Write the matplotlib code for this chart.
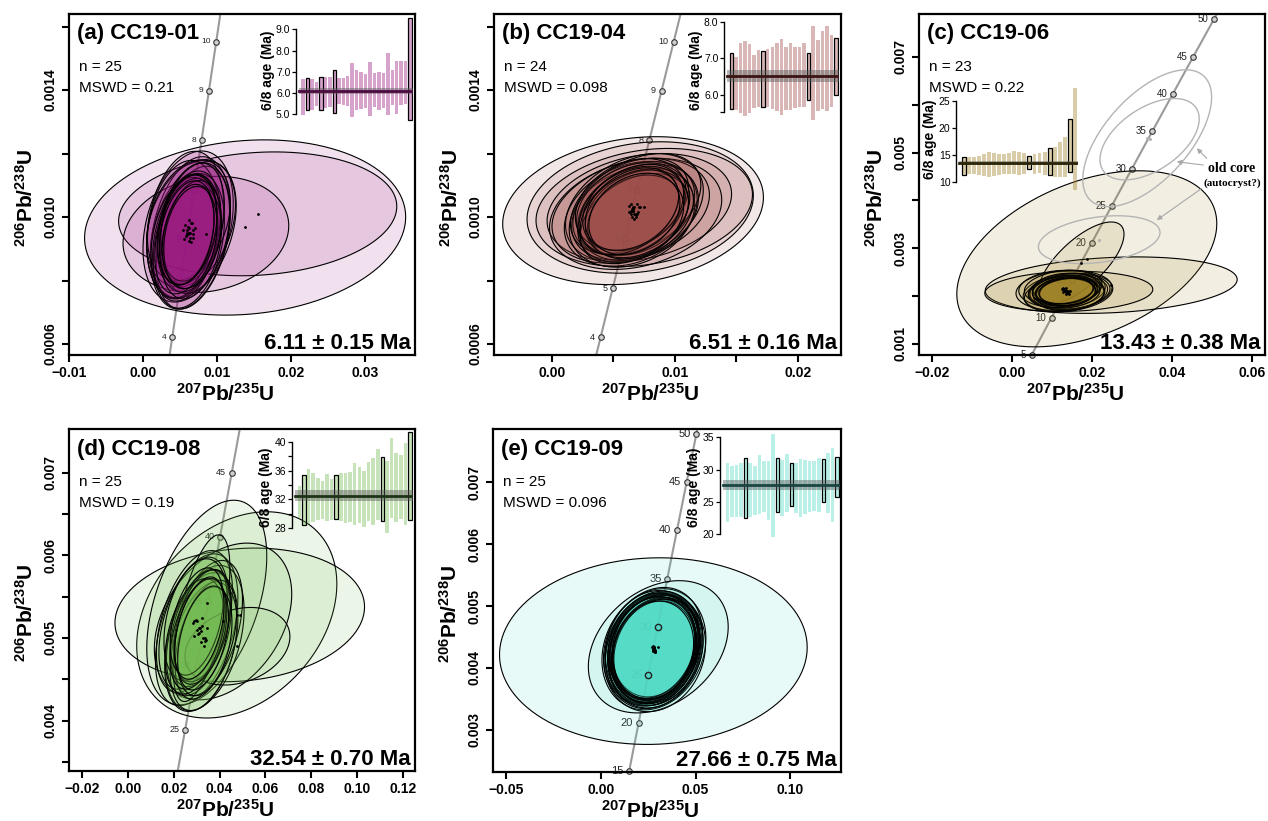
import numpy as np
import matplotlib
matplotlib.use("Agg")
import matplotlib.pyplot as plt
from matplotlib.patches import Polygon

plt.rcParams['font.family'] = ['Liberation Sans', 'DejaVu Sans']
plt.rcParams['mathtext.fontset'] = 'custom'
plt.rcParams['mathtext.rm'] = 'Liberation Sans'
plt.rcParams['mathtext.bf'] = 'Liberation Sans:bold'
plt.rcParams['mathtext.it'] = 'Liberation Sans:italic'

# ---------------- decay constants (per Ma) for the concordia ----------------
L238 = 1.55125e-4
L235 = 9.8485e-4

# ---------------- panel (a) CC19-01 ----------------
a_cx = [0.0138, 0.0155, 0.0085, 0.0061, 0.0065, 0.0068, 0.0062,
        0.0064, 0.0057, 0.0068, 0.0054, 0.0062, 0.0070, 0.0059, 0.0056, 0.0066,
        0.0062, 0.0058, 0.0065, 0.0060, 0.0067, 0.0062, 0.0059, 0.0064, 0.0061]
a_cy = [0.000967, 0.00101, 0.000945, 0.00097, 0.00098, 0.00096, 0.00099,
        0.000950, 0.000975, 0.000935, 0.000960, 0.000925, 0.000965, 0.000945, 0.000930, 0.000980,
        0.000950, 0.000940, 0.000920, 0.000960, 0.000945, 0.000965, 0.000950, 0.000935, 0.000945]
a_sx = [0.0217, 0.0188, 0.0112, 0.0061, 0.0060, 0.0058, 0.0056,
        0.0054, 0.0052, 0.0050, 0.0049, 0.0048, 0.0047, 0.0046, 0.0045, 0.0044,
        0.0043, 0.0042, 0.0041, 0.0040, 0.0039, 0.0038, 0.0037, 0.0036, 0.0035]
a_sy = [0.000276, 0.000195, 0.000183, 0.000238, 0.000200, 0.000215, 0.000190,
        0.000240, 0.000232, 0.000225, 0.000218, 0.000212, 0.000206, 0.000200, 0.000195, 0.000190,
        0.000186, 0.000182, 0.000178, 0.000174, 0.000170, 0.000167, 0.000164, 0.000161, 0.000158]
a_rho = [0.12, 0.12, 0.15, 0.30, 0.30, 0.35, 0.30,
         0.30, 0.25, 0.35, 0.22, 0.30, 0.25, 0.35, 0.25, 0.30,
         0.22, 0.35, 0.25, 0.30, 0.25, 0.22, 0.30, 0.25, 0.30]
a_hi = [6.68, 6.69, 6.68, 6.50, 6.74, 6.75, 6.75, 7.07, 6.70, 6.70, 6.78, 7.42, 7.10,
        7.00, 6.90, 7.45, 6.92, 7.00, 6.95, 7.88, 7.08, 7.50, 7.50, 7.50, 9.55]
a_lo = [4.95, 5.18, 5.20, 5.40, 5.22, 5.30, 5.35, 5.05, 5.50, 5.45, 5.40, 4.85, 5.20,
        5.25, 5.30, 4.90, 5.35, 5.20, 5.30, 4.95, 5.45, 5.00, 5.45, 5.50, 4.75]
a_out = [0, 1, 0, 0, 1, 0, 0, 1, 0, 0, 0, 0, 0, 0, 0, 0, 0, 0, 0, 0, 0, 0, 0, 0, 1]
a_ages = [4, 5, 6, 7, 8, 9, 10]

# ---------------- panel (b) CC19-04 ----------------
b_cx = [0.00659, 0.00717, 0.0075, 0.0071, 0.0068, 0.0064,
        0.0067, 0.0064, 0.0069, 0.0065, 0.0066, 0.0070, 0.0063, 0.0068, 0.0066,
        0.0064, 0.0067, 0.0065, 0.0069, 0.0066, 0.0063, 0.0068, 0.0065, 0.0067]
b_cy = [0.00102, 0.00103, 0.00103, 0.00103, 0.00101, 0.00102,
        0.001030, 0.001010, 0.001040, 0.001000, 0.001020, 0.001015, 0.001035, 0.001005, 0.001025,
        0.001040, 0.000995, 0.001020, 0.001010, 0.001030, 0.001015, 0.001000, 0.001025, 0.001010]
b_sx = [0.0106, 0.0092, 0.0088, 0.0075, 0.0070, 0.0064,
        0.0056, 0.0054, 0.0052, 0.0051, 0.0050, 0.0049, 0.0048, 0.0047, 0.0046,
        0.0045, 0.0044, 0.0043, 0.0042, 0.0041, 0.0040, 0.0039, 0.0038, 0.0037]
b_sy = [0.000233, 0.000207, 0.000186, 0.000170, 0.000175, 0.000165,
        0.000170, 0.000165, 0.000160, 0.000158, 0.000155, 0.000152, 0.000150, 0.000148, 0.000146,
        0.000144, 0.000142, 0.000140, 0.000138, 0.000136, 0.000134, 0.000132, 0.000130, 0.000128]
b_rho = [0.18, 0.18, 0.22, 0.25, 0.25, 0.30,
         0.32, 0.28, 0.38, 0.25, 0.32, 0.28, 0.38, 0.32, 0.25,
         0.28, 0.38, 0.32, 0.28, 0.32, 0.38, 0.25, 0.32, 0.28]
b_hi = [7.15, 7.03, 7.41, 7.48, 7.38, 7.09, 7.23, 7.21, 7.25, 7.32, 7.43, 7.54,
        7.30, 7.41, 7.30, 7.30, 7.41, 7.15, 7.88, 7.50, 7.75, 7.88, 7.64, 7.55]
b_lo = [5.61, 5.59, 5.50, 5.43, 5.52, 5.64, 5.66, 5.66, 5.68, 5.61, 5.55, 5.45,
        5.59, 5.59, 5.64, 5.68, 5.68, 5.86, 5.32, 5.57, 5.61, 5.55, 5.68, 6.00]
b_out = [1, 0, 0, 0, 0, 0, 0, 1, 0, 0, 0, 0, 0, 0, 0, 0, 0, 1, 0, 0, 0, 0, 0, 1]
b_ages = [4, 5, 6, 7, 8, 9, 10]

# ---------------- panel (c) CC19-06 ----------------
c_cx = [0.0187, 0.0248, 0.0173, 0.0142,
        0.0130, 0.0140, 0.0125, 0.0135, 0.0145, 0.0128, 0.0138, 0.0132, 0.0142, 0.0127,
        0.0136, 0.0133, 0.0140, 0.0129, 0.0137, 0.0134, 0.0131, 0.0139, 0.0135]
c_cy = [0.00278, 0.00223, 0.00270, 0.00210,
        0.00212, 0.00208, 0.00215, 0.00205, 0.00210, 0.00218, 0.00207, 0.00213, 0.00204, 0.00209,
        0.00216, 0.00211, 0.00206, 0.00214, 0.00210, 0.00208, 0.00212, 0.00209, 0.00211]
c_sx = [0.0325, 0.0315, 0.0107, 0.0210,
        0.0120, 0.0112, 0.0108, 0.0104, 0.0100, 0.0097, 0.0094, 0.0091, 0.0088, 0.0086,
        0.0084, 0.0082, 0.0080, 0.0078, 0.0076, 0.0074, 0.0072, 0.0070, 0.0068]
c_sy = [0.00184, 0.00059, 0.00085, 0.00042,
        0.00042, 0.00040, 0.00039, 0.00038, 0.00037, 0.00036, 0.00035, 0.00034, 0.00034, 0.00033,
        0.00032, 0.00032, 0.00031, 0.00030, 0.00030, 0.00029, 0.00028, 0.00028, 0.00027]
c_rho = [0.40, 0.20, 0.70, 0.10,
         0.15, 0.20, 0.10, 0.25, 0.15, 0.20, 0.10, 0.25, 0.15, 0.20,
         0.10, 0.15, 0.20, 0.25, 0.15, 0.10, 0.20, 0.15, 0.20]
c_hi = [14.6, 14.5, 14.6, 14.75, 15.1, 15.55, 15.4, 15.1, 15.2, 15.4, 15.75, 15.55,
        15.4, 14.75, 15.1, 15.4, 15.55, 16.2, 16.5, 17.4, 18.2, 21.7, 27.3]
c_lo = [11.2, 11.4, 11.35, 11.2, 11.05, 10.9, 11.05, 11.2, 11.4, 11.5, 11.4, 11.2,
        11.5, 12.3, 11.5, 11.7, 11.2, 11.2, 10.9, 10.8, 10.9, 11.85, 8.45]
c_out = [1, 0, 0, 0, 0, 0, 0, 0, 0, 0, 0, 0, 0, 1, 0, 0, 0, 1, 0, 0, 0, 1, 0]
c_ages = [5, 10, 15, 20, 25, 30, 35, 40, 45, 50]
# old-core (autocryst?) analyses, not part of the mean
core_cx = [0.0338, 0.0344, 0.0218]
core_cy = [0.00530, 0.00528, 0.00318]
core_sx = [0.0161, 0.0124, 0.0152]
core_sy = [0.00143, 0.00085, 0.00050]
core_rho = [0.60, 0.50, 0.30]

# ---------------- panel (d) CC19-08 ----------------
d_cx = [0.0488, 0.0475, 0.0344, 0.0415, 0.0478, 0.0321,
        0.0300, 0.0335, 0.0290, 0.0320, 0.0345, 0.0285, 0.0330, 0.0310, 0.0295, 0.0340,
        0.0315, 0.0290, 0.0325, 0.0305, 0.0335, 0.0300, 0.0318, 0.0328, 0.0312]
d_cy = [0.00528, 0.00528, 0.00543, 0.00520, 0.00490, 0.00524,
        0.00510, 0.00500, 0.00520, 0.00495, 0.00512, 0.00518, 0.00490, 0.00506, 0.00522, 0.00498,
        0.00512, 0.00502, 0.00515, 0.00505, 0.00496, 0.00520, 0.00508, 0.00500, 0.00512]
d_sx = [0.0545, 0.0437, 0.0262, 0.0300, 0.0229, 0.0124,
        0.0180, 0.0172, 0.0166, 0.0160, 0.0155, 0.0150, 0.0146, 0.0142, 0.0138, 0.0134,
        0.0131, 0.0128, 0.0125, 0.0122, 0.0119, 0.0116, 0.0114, 0.0111, 0.0108]
d_sy = [0.00081, 0.00125, 0.00124, 0.00095, 0.00047, 0.00101,
        0.00092, 0.00088, 0.00086, 0.00084, 0.00082, 0.00080, 0.00078, 0.00076, 0.00074, 0.00072,
        0.00071, 0.00070, 0.00068, 0.00067, 0.00066, 0.00065, 0.00064, 0.00063, 0.00062]
d_rho = [0.12, 0.30, 0.45, 0.35, 0.25, 0.60,
         0.42, 0.38, 0.45, 0.35, 0.42, 0.45, 0.38, 0.42, 0.35, 0.45,
         0.42, 0.38, 0.42, 0.45, 0.35, 0.42, 0.38, 0.42, 0.45]
d_hi = [33.8, 35.4, 36.2, 35.6, 35.0, 34.55, 35.5, 34.9, 35.4, 35.6, 35.6, 35.85, 37.0,
        36.5, 35.9, 37.2, 37.7, 39.0, 37.9, 37.3, 40.55, 38.5, 38.15, 39.77, 41.4]
d_lo = [29.4, 28.4, 28.55, 28.9, 29.2, 29.3, 29.0, 29.15, 29.3, 29.0, 28.7, 28.9, 28.45,
        28.8, 28.2, 29.0, 28.45, 29.15, 29.0, 27.3, 29.4, 28.9, 29.25, 28.45, 29.15]
d_out = [0, 1, 0, 0, 0, 0, 0, 0, 1, 0, 0, 0, 0, 0, 0, 0, 0, 0, 1, 0, 0, 0, 0, 0, 1]
d_ages = [25, 30, 35, 40, 45]

# ---------------- panel (e) CC19-09 ----------------
e_cx = [0.0277, 0.0303,
        0.0280, 0.0285, 0.0275, 0.0282, 0.0278, 0.0288, 0.0272, 0.0281, 0.0279, 0.0284, 0.0276,
        0.0283, 0.0277, 0.0280, 0.0286, 0.0274, 0.0281, 0.0279, 0.0282, 0.0278, 0.0280, 0.0283, 0.0277]
e_cy = [0.00427, 0.00434,
        0.00430, 0.00425, 0.00435, 0.00428, 0.00432, 0.00427, 0.00433, 0.00429, 0.00431, 0.00426, 0.00434,
        0.00430, 0.00428, 0.00433, 0.00429, 0.00431, 0.00427, 0.00432, 0.00430, 0.00434, 0.00428, 0.00431, 0.00429]
e_sx = [0.0814, 0.0370,
        0.0275, 0.0268, 0.0262, 0.0258, 0.0255, 0.0252, 0.0249, 0.0246, 0.0243, 0.0240, 0.0238,
        0.0236, 0.0233, 0.0231, 0.0229, 0.0227, 0.0225, 0.0223, 0.0221, 0.0219, 0.0217, 0.0215, 0.0213]
e_sy = [0.00151, 0.00107,
        0.00098, 0.00096, 0.00095, 0.00094, 0.00093, 0.00092, 0.00091, 0.00090, 0.00089, 0.00088, 0.00087,
        0.00087, 0.00086, 0.00085, 0.00084, 0.00084, 0.00083, 0.00082, 0.00082, 0.00081, 0.00080, 0.00080, 0.00079]
e_rho = [0.04, 0.30,
         0.18, 0.14, 0.22, 0.18, 0.12, 0.18, 0.22, 0.14, 0.18, 0.22, 0.14,
         0.18, 0.12, 0.18, 0.22, 0.14, 0.18, 0.22, 0.18, 0.14, 0.18, 0.22, 0.14]
e_hi = [31.0, 30.5, 30.7, 31.1, 31.75, 31.0, 30.6, 32.3, 31.35, 31.35, 35.5, 31.75, 31.5,
        32.4, 31.1, 31.1, 31.65, 31.5, 31.35, 31.35, 31.75, 31.6, 32.5, 33.4, 31.9]
e_lo = [21.85, 22.6, 22.7, 22.7, 22.5, 22.7, 23.0, 23.1, 23.4, 22.2, 19.6, 23.5, 22.9,
        23.4, 24.3, 23.25, 22.7, 23.1, 23.4, 23.6, 23.4, 25.05, 23.25, 21.85, 25.8]
e_out = [0, 0, 0, 0, 1, 0, 0, 0, 0, 0, 0, 1, 0, 0, 1, 0, 0, 0, 0, 0, 0, 1, 0, 0, 1]
e_ages = [15, 20, 25, 30, 35, 40, 45, 50]

titles = ["(a) CC19-01", "(b) CC19-04", "(c) CC19-06", "(d) CC19-08", "(e) CC19-09"]
n_text = ["n = 25", "n = 24", "n = 23", "n = 25", "n = 25"]
mswd_text = ["MSWD = 0.21", "MSWD = 0.098", "MSWD = 0.22", "MSWD = 0.19", "MSWD = 0.096"]
mean_age = [6.11, 6.51, 13.43, 32.54, 27.66]
mean_err = [0.15, 0.16, 0.38, 0.70, 0.75]

# ---------------------------------------------------------------------------
W, H = 1268, 821
fig = plt.figure(figsize=(W / 100, H / 100), dpi=100)


def rect(l, t, r, b):
    return [l / W, 1 - b / H, (r - l) / W, (b - t) / H]


def ell_xy(cx, cy, sx, sy, rho, n=120):
    t = np.linspace(0, 2 * np.pi, n)
    x = cx + sx * np.cos(t)
    y = cy + sy * (rho * np.cos(t) + np.sqrt(1 - rho ** 2) * np.sin(t))
    return np.column_stack([x, y])


XLAB = r'$\mathbf{{}^{207}Pb/{}^{235}U}$'
YLAB = r'$\mathbf{{}^{206}Pb/{}^{238}U}$'


def main_panel(px, xlim, ylim, xt, xtl, yt, ytl, cx, cy, sx, sy, rho, base,
               ages, age_fs, idx, top_ages=()):
    l, t, r, b = px
    aw, ah = r - l, b - t
    ax = fig.add_axes(rect(*px))
    ax.set_xlim(*xlim)
    ax.set_ylim(*ylim)
    # concordia
    tt = np.linspace(0, 80, 800)
    ax.plot(np.expm1(L235 * tt), np.expm1(L238 * tt), color='#9a9a9a', lw=1.5, zorder=1)
    ag = np.array(ages, dtype=float)
    ax.plot(np.expm1(L235 * ag), np.expm1(L238 * ag), 'o', ms=4, mfc='#cfcfcf',
            mec='#333333', mew=0.8, zorder=1.5, clip_on=False)
    for a_ in ages:
        ax.annotate(str(a_), (np.expm1(L235 * a_), np.expm1(L238 * a_)),
                    xytext=(-4, 0), textcoords='offset points', ha='right', va='center',
                    fontsize=age_fs, color='#222222', zorder=1.5)
    if len(top_ages):
        tg = np.array(top_ages, dtype=float)
        ax.plot(np.expm1(L235 * tg), np.expm1(L238 * tg), 'o', ms=4.5, mfc='none',
                mec='#222222', mew=1.0, zorder=4)
    # ellipses, largest first
    area = np.array(sx) * np.array(sy) * np.sqrt(1 - np.array(rho) ** 2)
    order = np.argsort(-area)
    fc = (*base, 0.13)
    for k in order:
        ax.add_patch(Polygon(ell_xy(cx[k], cy[k], sx[k], sy[k], rho[k]), closed=True,
                             facecolor=fc, edgecolor='black', lw=0.8, zorder=2))
    ax.plot(cx, cy, 'o', ms=1.0, color='black', zorder=3)
    # axes styling
    for s in ax.spines.values():
        s.set_linewidth(1.6)
    ax.set_xticks(xt)
    ax.set_xticklabels(xtl, fontsize=10, fontweight='bold')
    ax.set_yticks(yt)
    ax.set_yticklabels(ytl, fontsize=10, fontweight='bold', rotation=90, va='center')
    ax.tick_params(direction='out', length=5, width=1.5, pad=3)
    ax.set_xlabel(XLAB, fontsize=15)
    ax.set_ylabel(YLAB, fontsize=15)
    ax.xaxis.set_label_coords(0.5 - 17 / aw, -28 / ah)
    ax.yaxis.set_label_coords(-32 / aw, 0.5 - 13 / ah)
    # texts
    ax.text(8 / aw, 1 - 20 / ah, titles[idx], transform=ax.transAxes, fontsize=16,
            fontweight='bold', ha='left', va='center')
    ax.text(10 / aw, 1 - 53 / ah, n_text[idx], transform=ax.transAxes, fontsize=11,
            ha='left', va='center')
    ax.text(10 / aw, 1 - 74 / ah, mswd_text[idx], transform=ax.transAxes, fontsize=11,
            ha='left', va='center')
    ax.text(1 - 4 / aw, 12 / ah, f"{mean_age[idx]:.2f} \u00b1 {mean_err[idx]:.2f} Ma",
            transform=ax.transAxes, fontsize=16, fontweight='bold', ha='right', va='center')
    return ax


def inset(px, hi, lo, out, base, dark, idx, tick_px, ticks, tlabels, bounds):
    l, t, r, b = px
    ax = fig.add_axes(rect(*px))
    ax.patch.set_alpha(0)
    p1, v1, p2, v2 = tick_px
    val = lambda p: v1 + (p - p1) * (v2 - v1) / (p2 - p1)
    ax.set_ylim(val(b), val(t))
    n = len(hi)
    ax.set_xlim(-1.6, n - 0.35)
    x = np.arange(n)
    hi_ = np.array(hi)
    lo_ = np.array(lo)
    ecs = [(0, 0, 0, 1) if o else (0, 0, 0, 0) for o in out]
    ax.bar(x, hi_ - lo_, bottom=lo_, width=0.78, color=(*base, 0.40),
           edgecolor=ecs, linewidth=0.9, zorder=2)
    m, e = mean_age[idx], mean_err[idx]
    ax.fill_between([-1.0, n - 0.35], m - e, m + e, color=(0.35, 0.35, 0.35, 0.45),
                    lw=0, zorder=3)
    ax.plot([-1.0, n - 0.35], [m, m], color=dark, lw=2.0, zorder=4)
    for s in ['top', 'right', 'bottom']:
        ax.spines[s].set_visible(False)
    ax.spines['left'].set_bounds(*bounds)
    ax.spines['left'].set_linewidth(1.0)
    ax.set_xticks([])
    ax.set_yticks(ticks)
    ax.set_yticklabels(tlabels, fontsize=7.5)
    ax.tick_params(axis='y', length=3, width=0.9, pad=1)
    ax.set_ylabel('6/8 age (Ma)', fontsize=10, fontweight='bold', labelpad=1)
    return ax


M = '\u2212'
col_a = (0.60, 0.10, 0.50)
col_b = (0.62, 0.30, 0.29)
col_c = (0.62, 0.51, 0.15)
col_d = (0.45, 0.73, 0.32)
col_e = (0.33, 0.86, 0.78)

# (a)
main_panel((69, 14, 415, 355), (-0.0100, 0.03676), (0.0005654, 0.0016394),
           [-0.01, 0.0, 0.01, 0.02, 0.03], [M + '0.01', '0.00', '0.01', '0.02', '0.03'],
           [0.0006, 0.0008, 0.0010, 0.0012, 0.0014, 0.0016],
           ['0.0006', '', '0.0010', '', '0.0014', ''],
           a_cx, a_cy, a_sx, a_sy, a_rho, col_a, a_ages, 6, 0)
inset((296, 15, 413, 125), a_hi, a_lo, a_out, col_a, '#4d0a40', 0,
      (29.3, 9.0, 114.3, 5.0), [5, 6, 7, 8, 9], ['5.0', '6.0', '7.0', '8.0', '9.0'], (5, 9))

# (b)
main_panel((494, 14, 841, 355), (-0.004715, 0.023496), (0.0005654, 0.0016394),
           [0.0, 0.005, 0.01, 0.015, 0.02], ['0.00', '', '0.01', '', '0.02'],
           [0.0006, 0.0008, 0.0010, 0.0012, 0.0014, 0.0016],
           ['0.0006', '', '0.0010', '', '0.0014', ''],
           b_cx, b_cy, b_sx, b_sy, b_rho, col_b, b_ages, 6.5, 1)
inset((724, 15, 839, 125), b_hi, b_lo, b_out, col_b, '#3a1512', 1,
      (21.7, 8.0, 95.0, 6.0), [5.53, 6, 7, 8], ['', '6.0', '7.0', '8.0'], (5.53, 8.0))

# (c)
axc = main_panel((919, 14, 1265, 355), (-0.02325, 0.06325), (0.00077, 0.0078966),
                 [-0.02, 0.0, 0.02, 0.04, 0.06], [M + '0.02', '0.00', '0.02', '0.04', '0.06'],
                 [0.001, 0.002, 0.003, 0.004, 0.005, 0.006, 0.007],
                 ['0.001', '', '0.003', '', '0.005', '', '0.007'],
                 c_cx, c_cy, c_sx, c_sy, c_rho, col_c, c_ages, 7, 2)
for k in range(len(core_cx)):
    axc.add_patch(Polygon(ell_xy(core_cx[k], core_cy[k], core_sx[k], core_sy[k], core_rho[k]),
                          closed=True, facecolor='none', edgecolor='#b4b4b4', lw=1.0, zorder=2.5))
axc.plot(core_cx, core_cy, 'o', ms=1.2, color='#b4b4b4', zorder=2.5)
axc.text(0.0549, 0.00467, 'old core', fontsize=10, fontweight='bold',
         family=['Liberation Serif', 'DejaVu Serif'], ha='center', va='center')
axc.text(0.0550, 0.00437, '(autocryst?)', fontsize=8, fontweight='bold',
         family=['Liberation Serif', 'DejaVu Serif'], ha='center', va='center')
for (x0, y0, x1, y1) in [(0.0487, 0.00488, 0.0462, 0.00509),
                         (0.0478, 0.00474, 0.0412, 0.00481),
                         (0.0474, 0.00425, 0.0362, 0.00359)]:
    axc.annotate('', xy=(x1, y1), xytext=(x0, y0),
                 arrowprops=dict(arrowstyle='-|>', color='#a8a8a8', lw=0.8,
                                 mutation_scale=7, shrinkA=0, shrinkB=0), zorder=3)
inset((956, 84, 1078, 195), c_hi, c_lo, c_out, col_c, '#2a2508', 2,
      (100.7, 25, 181.7, 10), [10, 15, 20, 25], ['10', '15', '20', '25'], (10, 25))

# (d)
main_panel((69, 429, 415, 771), (-0.02576, 0.12533), (0.003388, 0.007533),
           [-0.02, 0.0, 0.02, 0.04, 0.06, 0.08, 0.10, 0.12],
           [M + '0.02', '0.00', '0.02', '0.04', '0.06', '0.08', '0.10', '0.12'],
           [0.0035, 0.004, 0.0045, 0.005, 0.0055, 0.006, 0.0065, 0.007],
           ['', '0.004', '', '0.005', '', '0.006', '', '0.007'],
           d_cx, d_cy, d_sx, d_sy, d_rho, col_d, d_ages, 6.5, 3)
inset((292, 430, 413, 545), d_hi, d_lo, d_out, col_d, '#1e3316', 3,
      (441.7, 40, 528.3, 28), [28, 30, 32, 34, 36, 38, 40],
      ['28', '', '32', '', '36', '', '40'], (28, 40))

# (e)
main_panel((493, 429, 841, 772), (-0.05714, 0.12698), (0.002314, 0.007864),
           [-0.05, 0.0, 0.05, 0.10], [M + '0.05', '0.00', '0.05', '0.10'],
           [0.003, 0.004, 0.005, 0.006, 0.007],
           ['0.003', '0.004', '0.005', '0.006', '0.007'],
           e_cx, e_cy, e_sx, e_sy, e_rho, col_e, e_ages, 8, 4, top_ages=(25, 30))
inset((720, 430, 840, 545), e_hi, e_lo, e_out, col_e, '#1a4540', 4,
      (437.3, 35, 534.3, 20), [20, 25, 30, 35], ['20', '25', '30', '35'], (20, 35))

fig.savefig('out.png', dpi=100)
